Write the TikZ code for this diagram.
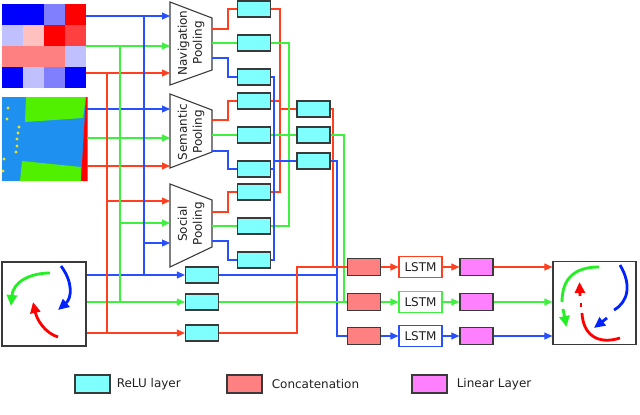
\documentclass[tikz,border=0pt]{standalone}
\usepackage{fontspec}
\setmainfont{DejaVu Sans}
\usetikzlibrary{positioning,arrows.meta}
\definecolor{relucyan}{HTML}{80FFFF}
\definecolor{concatred}{HTML}{FF8080}
\definecolor{linpink}{HTML}{FF80FF}
\definecolor{boxgrey}{HTML}{3A3A3A}
\definecolor{txtgrey}{HTML}{202020}
\definecolor{lred}{HTML}{FF4020}
\definecolor{lgreen}{HTML}{40F040}
\definecolor{lblue}{HTML}{2850FF}
\definecolor{ared}{HTML}{FF0000}
\definecolor{agreen}{HTML}{22F022}
\definecolor{ablue}{HTML}{0022FF}
\definecolor{hblue}{HTML}{0000FF}
\definecolor{hmid}{HTML}{8080FF}
\definecolor{hlight}{HTML}{C0C0FF}
\definecolor{hred}{HTML}{FF0000}
\definecolor{hred2}{HTML}{FF4040}
\definecolor{hpink}{HTML}{FF8080}
\definecolor{hpale}{HTML}{FFC0C0}
\definecolor{semblue}{HTML}{1E90F0}
\definecolor{semgreen}{HTML}{50F000}
\definecolor{semyellow}{HTML}{F0E020}
\begin{document}
\begin{tikzpicture}[x=1pt,y=-1pt,
    >={Triangle[length=8pt,width=7pt]},
    every node/.style={font=\fontsize{12}{15}\selectfont, text=txtgrey},
    relu/.style={draw=boxgrey, fill=relucyan, line width=1.2pt, minimum width=33pt, minimum height=16pt, inner sep=0pt},
    concat/.style={relu, fill=concatred, minimum height=17pt},
    linear/.style={relu, fill=linpink, minimum height=17pt},
    lstm/.style={draw, fill=white, line width=1.1pt, minimum width=43pt, minimum height=21pt, inner sep=0pt},
    pool/.style={rotate=90, align=center, inner sep=0pt},
    poolline/.style={draw=boxgrey, line width=1.1pt},
    imgbox/.style={minimum width=84pt, minimum height=84pt, inner sep=0pt},
    keybox/.style={relu, minimum width=35pt, minimum height=18pt},
    keytext/.style={inner sep=0pt, anchor=west},
    rl/.style={draw=lred, line width=1.1pt},
    gl/.style={draw=lgreen, line width=1.1pt},
    bl/.style={draw=lblue, line width=1.1pt},
    turn/.style={line width=2.8pt, -{Triangle[length=11pt,width=10pt]}}]
  \useasboundingbox (0,0) rectangle (640,415);

  % navigation map
  \fill[hblue] (2,4) rectangle (23,25);
  \fill[hblue] (23,4) rectangle (44,25);
  \fill[hmid] (44,4) rectangle (65,25);
  \fill[hred] (65,4) rectangle (86,25);
  \fill[hlight] (2,25) rectangle (23,46);
  \fill[hpale] (23,25) rectangle (44,46);
  \fill[hred] (44,25) rectangle (65,46);
  \fill[hred2] (65,25) rectangle (86,46);
  \fill[hpink] (2,46) rectangle (23,67);
  \fill[hpink] (23,46) rectangle (44,67);
  \fill[hpink] (44,46) rectangle (65,67);
  \fill[hlight] (65,46) rectangle (86,67);
  \fill[hblue] (2,67) rectangle (23,88);
  \fill[hlight] (23,67) rectangle (44,88);
  \fill[hmid] (44,67) rectangle (65,88);
  \fill[hblue] (65,67) rectangle (86,88);
  \node[imgbox] (navmap) at (44,46) {};

  % semantic map
  \fill[semblue] (2,97) rectangle (87,181);
  \fill[semgreen] (26,97) -- (86,97) -- (83,118) -- (25,122) -- cycle;
  \fill[semgreen] (22,161) -- (81,167) -- (81,181) -- (20,181) -- cycle;
  \fill[ared] (86,97) -- (87.5,97) -- (87.5,181) -- (81,181) -- cycle;
  \foreach \p in {(8,108),(7,119),(19,127),(18,133),(17,139),(17,146),(16,152),(4,159),(3,171)}
    \fill[semyellow] \p circle (1.6);
  \node[imgbox, minimum width=85pt] (semmap) at (44.5,139) {};

  % trajectories in
  \node[imgbox, draw=boxgrey, line width=1.2pt] (trajbox) at (44,304) {};
  \draw[turn, agreen] (50,273) .. controls (30,273) and (13,282) .. (11,306);
  \draw[turn, ablue] (61,266) .. controls (73,282) and (72,298) .. (58,310);
  \draw[turn, ared] (58,337) .. controls (45,333) and (37,320) .. (33,302);

  % pooling modules
  \draw[poolline] (170,2) -- (212,18) -- (212,70) -- (170,85) -- cycle;
  \draw[poolline] (170,94) -- (212,110) -- (212,152) -- (170,168) -- cycle;
  \draw[poolline] (170,184) -- (212,200) -- (212,247) -- (170,267) -- cycle;
  \node[pool] (navpool) at (191,43) {Navigation\\Pooling};
  \node[pool] (sempool) at (191,132) {Semantic\\Pooling};
  \node[pool] (socpool) at (191,224) {Social\\Pooling};
  \coordinate (nav-bi) at (170,16);
  \coordinate (nav-gi) at (170,46);
  \coordinate (nav-ri) at (170,73);
  \coordinate (nav-ro) at (212,29);
  \coordinate (nav-go) at (212,43);
  \coordinate (nav-bo) at (212,58);
  \coordinate (sem-bi) at (170,109);
  \coordinate (sem-gi) at (170,138);
  \coordinate (sem-ri) at (170,166);
  \coordinate (sem-ro) at (212,120);
  \coordinate (sem-go) at (212,135);
  \coordinate (sem-bo) at (212,151);
  \coordinate (soc-ri) at (170,201);
  \coordinate (soc-gi) at (170,223);
  \coordinate (soc-bi) at (170,243);
  \coordinate (soc-ro) at (212,212);
  \coordinate (soc-go) at (212,226);
  \coordinate (soc-bo) at (212,241);

  % relu layers
  \node[relu] (r1) at (254,9) {};
  \node[relu] (g1) at (254,43) {};
  \node[relu] (b1) at (254,77) {};
  \node[relu] (r2) at (254,101) {};
  \node[relu] (g2) at (254,135) {};
  \node[relu] (b2) at (254,169) {};
  \node[relu] (r3) at (254,192) {};
  \node[relu] (g3) at (254,226) {};
  \node[relu] (b3) at (254,260) {};
  \node[relu] (rs) at (313.5,109) {};
  \node[relu] (gs) at (313.5,135) {};
  \node[relu] (bs) at (313.5,161) {};
  \node[relu] (bt) at (202,275) {};
  \node[relu] (gt) at (202,302) {};
  \node[relu] (rt) at (202,333) {};

  % concat, lstm, linear
  \node[concat] (rc) at (364,267) {};
  \node[concat] (gc) at (364,302) {};
  \node[concat] (bc) at (364,336) {};
  \node[lstm, draw=lred] (rlstm) at (420.5,267) {LSTM};
  \node[lstm, draw=lgreen] (glstm) at (420.5,302) {LSTM};
  \node[lstm, draw=lblue] (blstm) at (420.5,336) {LSTM};
  \node[linear] (rlin) at (476.5,267) {};
  \node[linear] (glin) at (476.5,302) {};
  \node[linear] (blin) at (476.5,336) {};

  % predictions out
  \node[imgbox, minimum width=83pt, minimum height=83pt, draw=boxgrey, line width=1.2pt] (outbox) at (594.5,303) {};
  \draw[line width=2.8pt, agreen] (599,267) .. controls (575,267) and (562,278) .. (562,302);
  \draw[turn, agreen] (563,309) -- (566.5,327);
  \draw[line width=2.8pt, ablue] (620,265) .. controls (632,285) and (628,302) .. (614,310);
  \draw[turn, ablue] (607,318) -- (594,328);
  \draw[line width=2.8pt, ared] (620,338) .. controls (598,345) and (583,335) .. (582,313);
  \draw[line width=2.8pt, ared] (581,303) -- (581,307);
  \draw[turn, ared] (580,296) -- (579.5,282);

  % buses
  \coordinate (redbus) at (107,0);
  \coordinate (greenbus) at (120,0);
  \coordinate (bluebus) at (144,0);
  \coordinate (rj) at (280,109);
  \coordinate (gj) at (289,135);
  \coordinate (bj) at (274,161);
  \coordinate (rdrop) at (333,109);
  \coordinate (gdrop) at (344,135);
  \coordinate (bdrop) at (337,161);
  \coordinate (rbend) at (297,267);

  \begin{scope}[->]
    \draw[bl] (navmap.east |- nav-bi) -- (nav-bi);
    \draw[gl] (navmap.east |- nav-gi) -- (nav-gi);
    \draw[rl] (navmap.east |- nav-ri) -- (nav-ri);
    \draw[bl] (semmap.east |- sem-bi) -- (sem-bi);
    \draw[gl] (semmap.east |- sem-gi) -- (sem-gi);
    \draw[rl] (semmap.east |- sem-ri) -- (sem-ri);
    \draw[rl] (redbus |- soc-ri) -- (soc-ri);
    \draw[gl] (greenbus |- soc-gi) -- (soc-gi);
    \draw[bl] (bluebus |- soc-bi) -- (soc-bi);
    \draw[bl] (trajbox.east |- bt) -- (bt);
    \draw[gl] (trajbox.east |- gt) -- (gt);
    \draw[rl] (trajbox.east |- rt) -- (rt);
    \draw[rl] (rc) -- (rlstm);
    \draw[gl] (gc) -- (glstm);
    \draw[bl] (bc) -- (blstm);
    \draw[rl] (rlstm) -- (rlin);
    \draw[gl] (glstm) -- (glin);
    \draw[bl] (blstm) -- (blin);
    \draw[rl] (rlin) -- (outbox.west |- rlin);
    \draw[gl] (glin) -- (outbox.west |- glin);
    \draw[bl] (blin) -- (outbox.west |- blin);
  \end{scope}
  \begin{scope}[-]
    \draw[rl] (redbus |- nav-ri) -- (redbus |- rt);
    \draw[gl] (greenbus |- nav-gi) -- (greenbus |- gt);
    \draw[bl] (bluebus |- nav-bi) -- (bluebus |- bt);
    \draw[rl] (nav-ro) -- ++(16,0) |- (r1.west);
    \draw[gl] (nav-go) -- (g1.west);
    \draw[bl] (nav-bo) -- ++(16,0) |- (b1.west);
    \draw[rl] (sem-ro) -- ++(16,0) |- (r2.west);
    \draw[gl] (sem-go) -- (g2.west);
    \draw[bl] (sem-bo) -- ++(16,0) |- (b2.west);
    \draw[rl] (soc-ro) -- ++(16,0) |- (r3.west);
    \draw[gl] (soc-go) -- (g3.west);
    \draw[bl] (soc-bo) -- ++(16,0) |- (b3.west);
    \draw[rl] (r1.east) -| (rj) |- (r3.east);
    \draw[rl] (r2.east) -| (rj) -- (rs.west);
    \draw[gl] (g1.east) -| (gj) |- (g3.east);
    \draw[gl] (g2.east) -- (gs.west);
    \draw[bl] (b1.east) -| (bj) |- (b3.east);
    \draw[bl] (b2.east) -| (bj) -- (bs.west);
    \draw[rl] (rs.east) -- (rdrop) |- (rc.west);
    \draw[gl] (gs.east) -- (gdrop) |- (gc.west);
    \draw[bl] (bs.east) -- (bdrop) |- (bc.west);
    \draw[bl] (bt.east) -- (bt.east -| bdrop);
    \draw[gl] (gt.east) -- (gc.west);
    \draw[rl] (rt.east) -| (rbend) -- (rc.west);
  \end{scope}

  % key
  \node[keybox] (keyrelu) at (92.5,384) {};
  \node[keytext, right=6pt of keyrelu] (keyrelutext) {ReLU layer};
  \node[keybox, fill=concatred] (keyconcat) at (244.5,384) {};
  \node[keytext, right=9pt of keyconcat] (keyconcattext) {Concatenation};
  \node[keybox, fill=linpink] (keylin) at (429.5,384) {};
  \node[keytext, right=9pt of keylin] (keylintext) {Linear Layer};
\end{tikzpicture}
\end{document}
